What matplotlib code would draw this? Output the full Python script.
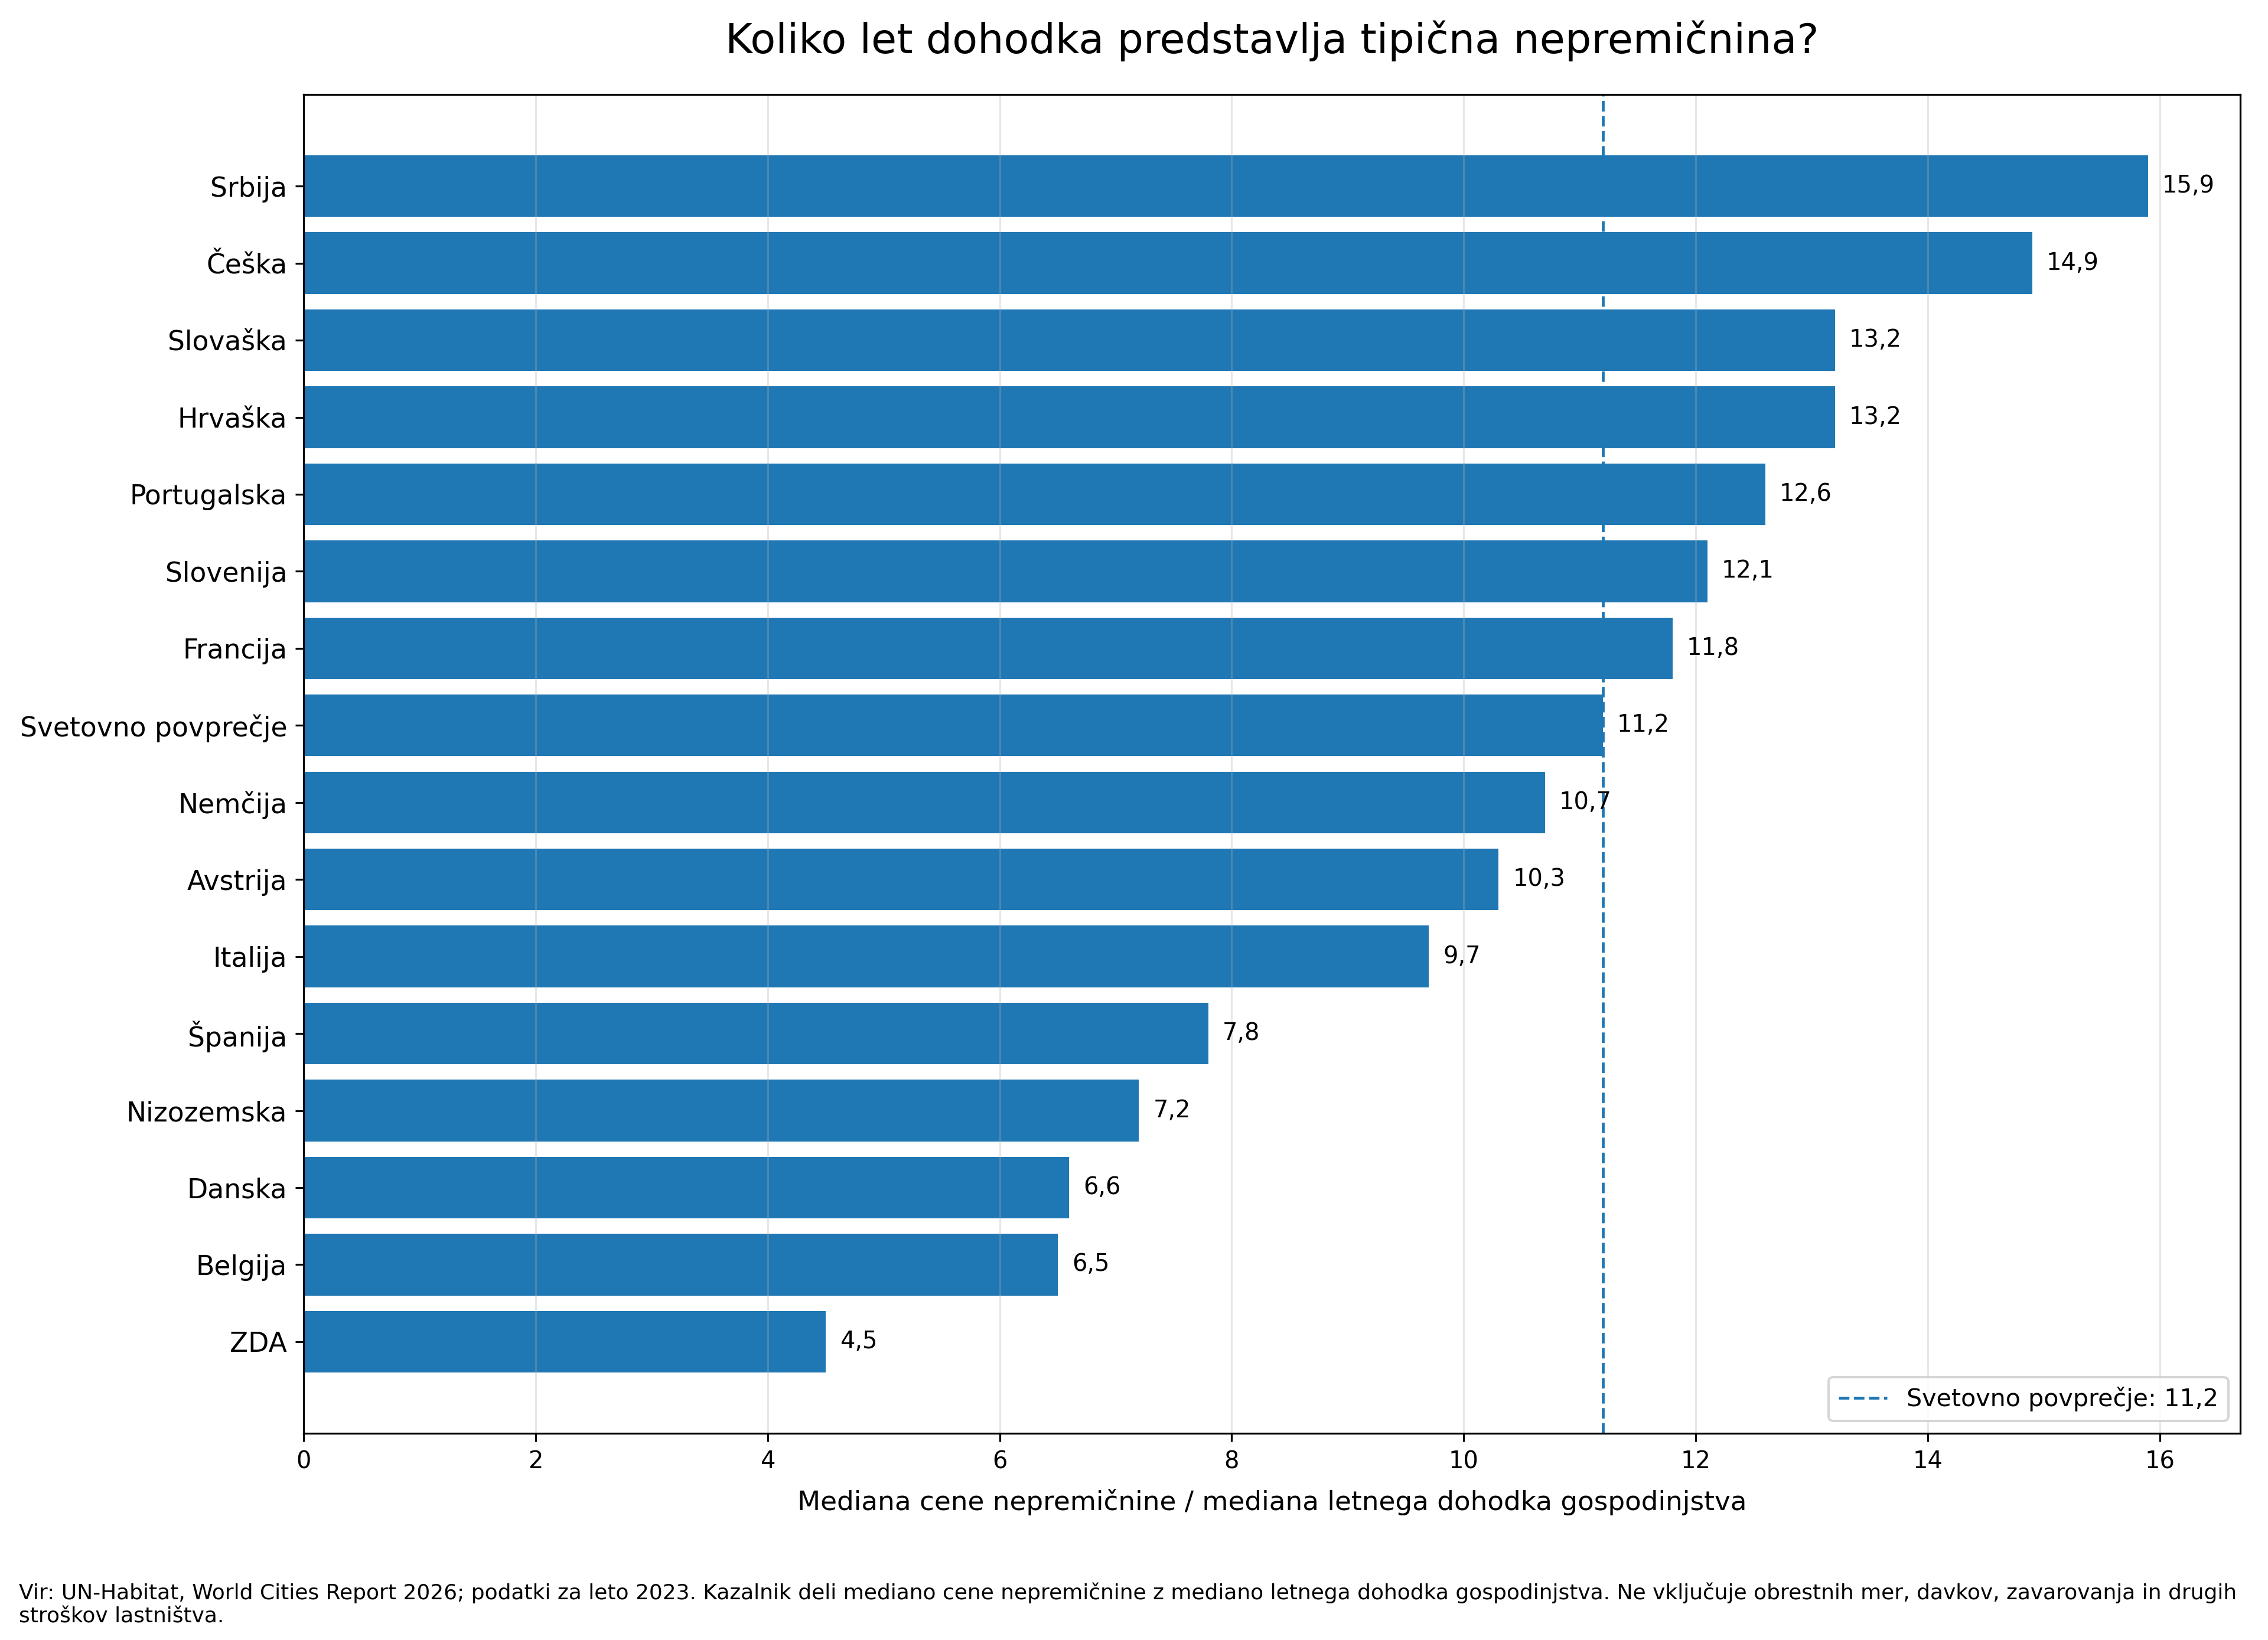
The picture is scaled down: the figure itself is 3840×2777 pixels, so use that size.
import matplotlib
matplotlib.use("Agg")
import matplotlib.pyplot as plt

countries = ["Srbija", "Češka", "Slovaška", "Hrvaška", "Portugalska", "Slovenija",
             "Francija", "Svetovno povprečje", "Nemčija", "Avstrija", "Italija",
             "Španija", "Nizozemska", "Danska", "Belgija", "ZDA"]
values = [15.9, 14.9, 13.2, 13.2, 12.6, 12.1, 11.8, 11.2, 10.7, 10.3, 9.7,
          7.8, 7.2, 6.6, 6.5, 4.5]
world_avg = 11.2

title = "Koliko let dohodka predstavlja tipična nepremičnina?"
xlabel = "Mediana cene nepremičnine / mediana letnega dohodka gospodinjstva"
legend_label = "Svetovno povprečje: 11,2"
footnote = ("Vir: UN-Habitat, World Cities Report 2026; podatki za leto 2023. Kazalnik deli mediano cene "
            "nepremičnine z mediano letnega dohodka gospodinjstva. Ne vključuje obrestnih mer, davkov, "
            "zavarovanja in drugih\nstroškov lastništva.")

def fmt(v):
    return f"{v:.1f}".replace(".", ",")

DPI = 288
fig = plt.figure(figsize=(3840 / DPI, 2777 / DPI), dpi=DPI)
ax = fig.add_axes([0.1339, 0.1260, 0.9878 - 0.1339, 0.9424 - 0.1260])

bars = ax.barh(countries, values, height=0.8, color="#1f77b4")
ax.invert_yaxis()
ax.bar_label(bars, labels=[fmt(v) for v in values], padding=6, fontsize=10)

ax.axvline(world_avg, color="#1f77b4", linestyle="--", linewidth=1.2, label=legend_label)
ax.set_xlim(0, max(values) * 1.05)
ax.grid(axis="x", alpha=0.3)

ax.tick_params(axis="y", labelsize=11.4)
ax.tick_params(axis="x", labelsize=10)
ax.set_xlabel(xlabel, fontsize=11.3, labelpad=6.5)
ax.set_title(title, fontsize=17.5, pad=17.5)
ax.legend(loc="lower right", fontsize=10.3)

fig.text(0.0083, 0.008, footnote, fontsize=9, ha="left", va="bottom")

fig.savefig("out.png", dpi=DPI)
